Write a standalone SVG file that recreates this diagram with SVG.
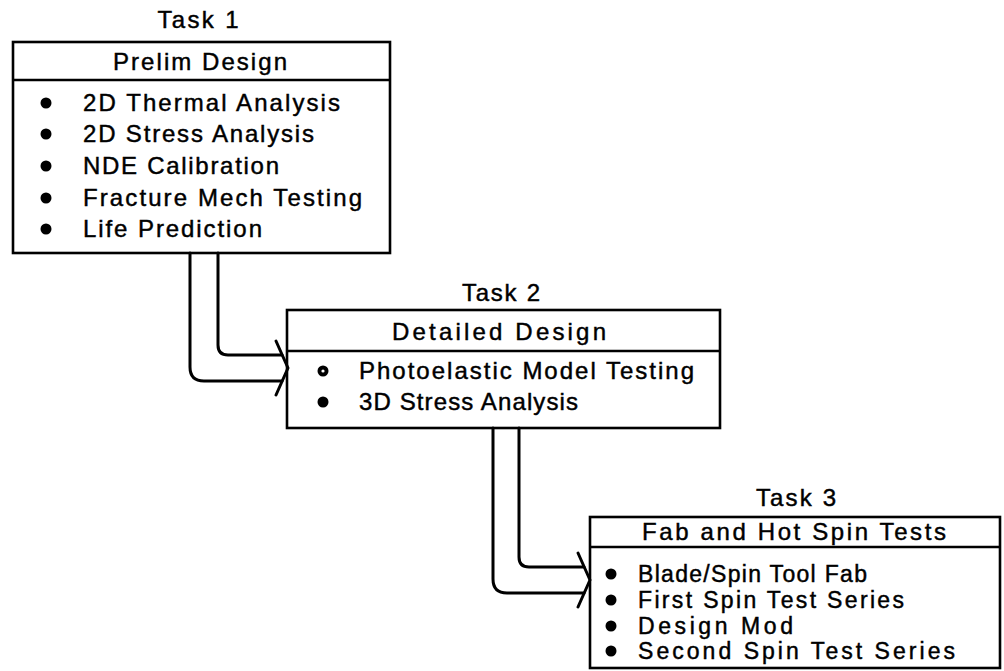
<svg xmlns="http://www.w3.org/2000/svg" width="1004" height="671" viewBox="0 0 1004 671">
<style>
.box{fill:none;stroke:#000;stroke-width:2.6}
.div{stroke:#000;stroke-width:2.4}
.t{font-family:"Liberation Sans",Arial,sans-serif;font-size:24px;fill:#000;stroke:#000;stroke-width:0.45}
.s{font-size:23px}
.h{font-family:"Liberation Sans",Arial,sans-serif;font-size:24px;fill:#000;stroke:#000;stroke-width:0.45;text-anchor:middle}
.c{fill:none;stroke:#000;stroke-width:3;stroke-linejoin:round;stroke-linecap:round}
</style>
<rect width="1004" height="671" fill="#fff"/>
<g id="task1">
<text class="h" x="198" y="28" textLength="81" lengthAdjust="spacing">Task 1</text>
<rect class="box" x="13" y="42" width="377" height="211"/>
<line class="div" x1="13" y1="80" x2="390" y2="80"/>
<text class="h" x="200" y="70" textLength="174" lengthAdjust="spacing">Prelim Design</text>
<circle cx="46" cy="103" r="5.5"/><text class="t" x="83" y="111" textLength="257" lengthAdjust="spacing">2D Thermal Analysis</text>
<circle cx="46" cy="134" r="5.5"/><text class="t" x="83" y="142" textLength="231" lengthAdjust="spacing">2D Stress Analysis</text>
<circle cx="46" cy="166" r="5.5"/><text class="t" x="83" y="174" textLength="196" lengthAdjust="spacing">NDE Calibration</text>
<circle cx="46" cy="198" r="5.5"/><text class="t" x="83" y="206" textLength="279" lengthAdjust="spacing">Fracture Mech Testing</text>
<circle cx="46" cy="229" r="5.5"/><text class="t" x="83" y="237" textLength="179" lengthAdjust="spacing">Life Prediction</text>
</g>
<g id="task2">
<text class="h" x="501" y="301" textLength="78" lengthAdjust="spacing">Task 2</text>
<rect class="box" x="287" y="310" width="433" height="118"/>
<line class="div" x1="287" y1="351" x2="720" y2="351"/>
<text class="h" x="499" y="340" textLength="214" lengthAdjust="spacing">Detailed Design</text>
<circle cx="323" cy="371" r="5.5"/><circle cx="323" cy="371" r="1.6" fill="#fff"/><text class="t" x="359" y="379" textLength="335" lengthAdjust="spacing">Photoelastic Model Testing</text>
<circle cx="323" cy="402" r="5.5"/><text class="t" x="359" y="410" textLength="219" lengthAdjust="spacing">3D Stress Analysis</text>
</g>
<g id="task3">
<text class="h" x="796" y="506" textLength="80" lengthAdjust="spacing">Task 3</text>
<rect class="box" x="590" y="517" width="410" height="151"/>
<line class="div" x1="590" y1="547" x2="1000" y2="547"/>
<text class="h" x="794" y="540" textLength="304" lengthAdjust="spacing">Fab and Hot Spin Tests</text>
<circle cx="611" cy="574" r="5.5"/><text class="t s" x="638" y="582" textLength="229" lengthAdjust="spacing">Blade/Spin Tool Fab</text>
<circle cx="611" cy="600" r="5.5"/><text class="t s" x="638" y="608" textLength="266" lengthAdjust="spacing">First Spin Test Series</text>
<circle cx="611" cy="626" r="5.5"/><text class="t s" x="638" y="634" textLength="155" lengthAdjust="spacing">Design Mod</text>
<circle cx="611" cy="651" r="5.5"/><text class="t s" x="638" y="659" textLength="317" lengthAdjust="spacing">Second Spin Test Series</text>
</g>
<g id="connectors">
<path class="c" d="M190,253 V367 Q190,381 204,381 H282"/>
<path class="c" d="M218,253 V345 Q218,355 228,355 H282"/>
<polyline class="c" points="276,341 288,368 276,395"/>
<path class="c" d="M493,428 V579 Q493,593 507,593 H584"/>
<path class="c" d="M519,428 V557 Q519,567 529,567 H584"/>
<polyline class="c" points="578,553 590,580 578,607"/>
</g>
</svg>
